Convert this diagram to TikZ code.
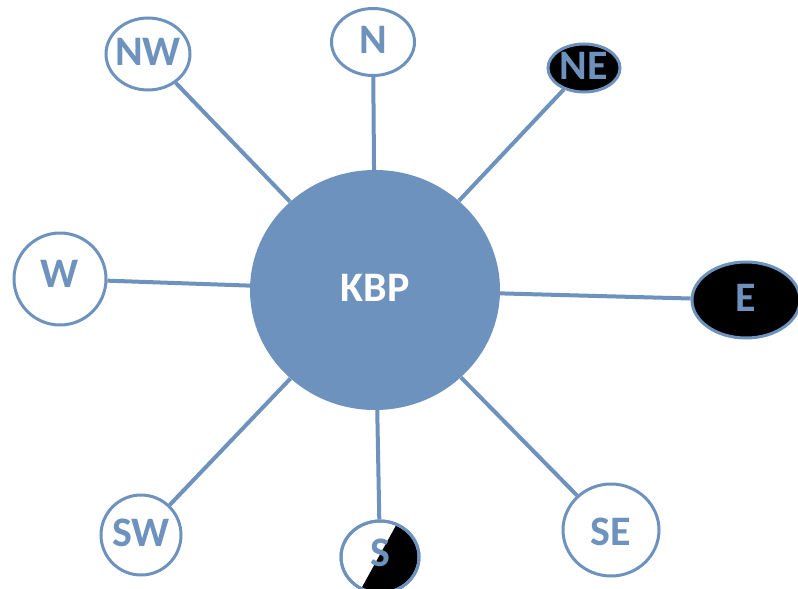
\documentclass[tikz,border=0pt]{standalone}
\usepackage{fontspec}
\setmainfont{Carlito}
\definecolor{kb}{RGB}{110,146,190}
\tikzset{
  bub/.style={ellipse, draw=kb, line width=3pt, fill=white, inner sep=0pt},
  lab/.style={text=kb, font=\bfseries\fontsize{42}{42}\selectfont},
  conn/.style={draw=kb, line width=4pt},
}
\usetikzlibrary{shapes.geometric}
\begin{document}
\begin{tikzpicture}[x=1pt,y=-1pt]
\useasboundingbox (0,0) rectangle (798,589);
\clip (0,0) rectangle (798,589);
\node[ellipse, fill=kb, minimum width=250, minimum height=240, inner sep=0pt] (K) at (375,290) {};
\node[bub, minimum width=84, minimum height=72] (NW) at (148,54) {};
\node[bub, minimum width=83, minimum height=67] (N) at (373,42) {};
\node[bub, minimum width=72, minimum height=48, fill=black] (NE) at (584,68) {};
\node[bub, minimum width=92, minimum height=92] (W) at (60,279) {};
\node[bub, minimum width=108, minimum height=76, fill=black] (E) at (746,300) {};
\node[bub, minimum width=80, minimum height=80] (SW) at (141,535) {};
\node[bub, minimum width=78, minimum height=72] (S) at (380,557) {};
\node[bub, minimum width=96, minimum height=92] (SE) at (611,530) {};
\foreach \n in {NW,N,NE,W,E,SW,S,SE} {\draw[conn] (K) -- (\n);}
\begin{scope}
\clip (380,557) ellipse [x radius=37.5, y radius=34.5];
\fill (350,609) -- (410,500) -- (440,498) -- (440,620) -- cycle;
\end{scope}
\node[lab, text=white] at ([yshift=2]K.center) {KBP};
\node[lab] at ([yshift=2]NW.center) {NW};
\node[lab] at ([yshift=2]N.center) {N};
\node[lab] at ([yshift=2]NE.center) {NE};
\node[lab] at ([yshift=5]W.center) {W};
\node[lab] at ([yshift=2]E.center) {E};
\node[lab] at ([yshift=2]SW.center) {SW};
\node[lab] at ([yshift=4]S.center) {S};
\node[lab] at ([yshift=-2]SE.center) {SE};
\node[bub, fill=none, minimum width=78, minimum height=72] at (380,557) {};
\end{tikzpicture}
\end{document}
